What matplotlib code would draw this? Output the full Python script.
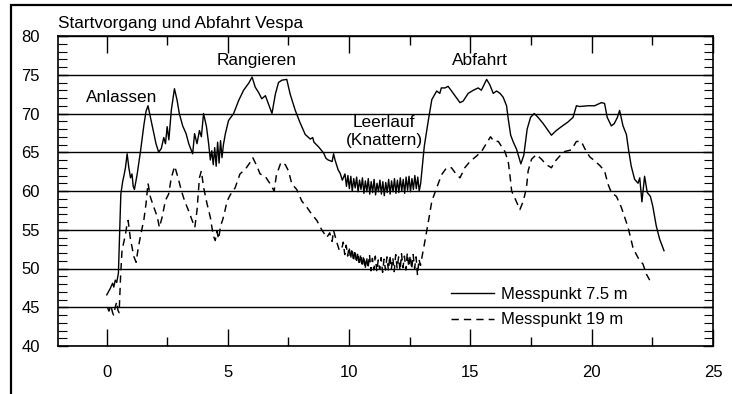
import matplotlib
matplotlib.use("Agg")
import matplotlib.pyplot as plt
from matplotlib.patches import Rectangle

plt.rcParams['font.family'] = ['Liberation Sans', 'DejaVu Sans']

# ---- data: time [s] and level [dB] ----
t_near = [0.01, 0.15, 0.25, 0.30, 0.36, 0.42, 0.49, 0.52, 0.55, 0.59, 0.67, 0.72, 0.78, 0.85, 0.92,
          0.99, 1.05, 1.10, 1.15, 1.26, 1.40, 1.54, 1.63, 1.71, 1.81, 1.95, 2.04, 2.15, 2.26, 2.36,
          2.43, 2.50, 2.57, 2.67, 2.80, 2.91, 3.00, 3.14, 3.28, 3.39, 3.55, 3.63, 3.73, 3.83, 3.91,
          4.00, 4.12, 4.21, 4.28, 4.34, 4.40, 4.46, 4.52, 4.58, 4.64, 4.70, 4.76, 4.82, 4.90, 5.03,
          5.24, 5.45, 5.65, 5.86, 6.00, 6.13, 6.27, 6.40, 6.55, 6.68, 6.82, 6.96, 7.09, 7.23, 7.43,
          7.57, 7.78, 7.98, 8.19, 8.40, 8.50, 8.55, 8.74, 8.95, 9.05, 9.14, 9.30, 9.36, 9.42, 9.55,
          9.63, 9.72,
          9.83, 9.89, 9.95, 10.01, 10.07, 10.13, 10.19, 10.25, 10.31, 10.37, 10.43, 10.49, 10.55,
          10.61, 10.67, 10.73, 10.79, 10.85, 10.91, 10.97, 11.03, 11.09, 11.15, 11.21, 11.27, 11.33,
          11.39, 11.45, 11.51, 11.57, 11.63, 11.69, 11.75, 11.81, 11.87, 11.93, 11.99, 12.05, 12.11,
          12.17, 12.23, 12.29, 12.35, 12.41, 12.47, 12.53, 12.59, 12.65, 12.71, 12.77, 12.83, 12.89,
          12.95, 13.10, 13.27, 13.41, 13.61, 13.74, 13.80, 13.95, 14.08, 14.20, 14.36, 14.57, 14.70,
          14.91, 15.12, 15.32, 15.45, 15.67, 15.80, 15.94, 16.08, 16.22, 16.35, 16.49, 16.56, 16.66,
          16.77, 16.90, 17.08, 17.20, 17.34, 17.48, 17.63, 17.79, 18.00, 18.16, 18.34, 18.54, 18.75,
          19.02, 19.23, 19.37, 19.50, 19.85, 20.12, 20.40, 20.53, 20.64, 20.81, 20.93, 21.06, 21.15,
          21.29, 21.43, 21.52, 21.63, 21.77, 21.91, 21.98, 22.07, 22.18, 22.29, 22.42, 22.52, 22.66,
          22.80, 22.98]
L_near = [46.6, 47.4, 48.1, 47.6, 48.5, 48.2, 49.4, 52.4, 55.3, 59.6, 61.3, 62.0, 63.0, 64.8, 63.0,
          61.7, 62.2, 60.6, 60.2, 62.1, 65.1, 68.5, 70.3, 71.0, 69.5, 67.4, 66.1, 65.0, 65.5, 66.9,
          66.1, 68.3, 66.6, 70.4, 73.2, 71.7, 70.0, 68.4, 67.4, 66.1, 64.8, 67.4, 66.1, 67.8, 67.0,
          70.0, 68.3, 66.1, 64.0, 65.2, 63.4, 65.6, 63.2, 66.3, 63.6, 66.5, 64.3, 66.0, 67.4, 69.1,
          70.0, 71.7, 73.0, 73.9, 74.7, 73.4, 72.7, 71.9, 72.3, 71.2, 70.0, 72.5, 74.0, 74.3, 74.4,
          72.5, 70.4, 68.8, 67.3, 66.7, 66.9, 66.3, 65.7, 64.9, 64.2, 64.0, 63.8, 64.8, 64.0, 62.7,
          62.3, 61.4,
          62.2, 60.6, 62.0, 60.3, 61.9, 60.0, 61.6, 60.4, 61.8, 59.9, 61.4, 60.2, 61.7,
          59.7, 61.3, 59.9, 61.6, 59.6, 61.2, 59.8, 61.5, 59.5, 61.0, 59.9, 61.4, 59.6,
          61.2, 59.4, 61.1, 59.8, 61.5, 59.6, 61.3, 59.9, 61.6, 59.7, 61.4, 59.8, 61.7,
          60.0, 61.5, 59.7, 61.8, 60.1, 61.9, 59.9, 61.6, 60.2, 62.0, 60.3, 61.8, 60.0,
          61.0, 65.8, 69.2, 71.8, 72.9, 72.6, 73.3, 73.3, 73.5, 73.0, 72.3, 71.4, 71.6,
          72.6, 73.0, 73.3, 73.0, 74.4, 73.7, 72.6, 72.9, 72.6, 72.1, 71.0, 69.3, 67.2,
          66.3, 65.4, 63.5, 64.6, 68.0, 69.5, 70.0, 69.5, 68.7, 68.0, 67.2, 67.8, 68.3,
          68.9, 69.5, 71.0, 70.9, 71.0, 71.0, 71.4, 71.3, 69.5, 68.4, 68.7, 69.5, 70.4,
          68.4, 67.3, 65.3, 63.2, 61.5, 61.0, 61.7, 58.6, 61.9, 59.8, 59.3, 58.0, 55.5,
          53.8, 52.3]

t_far = [0.04, 0.10, 0.18, 0.25, 0.29, 0.36, 0.42, 0.47, 0.52, 0.58, 0.64, 0.72, 0.78, 0.84, 0.89,
         0.99, 1.05, 1.12, 1.22, 1.30, 1.40, 1.54, 1.63, 1.71, 1.81, 1.95, 2.09, 2.18, 2.29, 2.43,
         2.56, 2.67, 2.81, 2.95, 3.09, 3.22, 3.39, 3.53, 3.64, 3.73, 3.83, 3.91, 4.00, 4.14, 4.28,
         4.35, 4.42, 4.48, 4.55, 4.62, 4.70, 4.78, 4.85, 4.97, 5.10, 5.30, 5.50, 5.72, 5.90, 6.03,
         6.20, 6.33, 6.54, 6.75, 6.91, 7.00, 7.19, 7.37, 7.50, 7.64, 7.84, 8.05, 8.26, 8.46, 8.67,
         8.87, 9.08, 9.20, 9.30, 9.36, 9.42, 9.52, 9.60,
         9.70, 9.76, 9.82, 9.88, 9.94, 10.00, 10.06, 10.12, 10.18, 10.24, 10.30, 10.36, 10.42,
         10.48, 10.54, 10.60, 10.66, 10.72, 10.78, 10.84, 10.90, 10.96, 11.02, 11.08, 11.14, 11.20,
         11.26, 11.32, 11.38, 11.44, 11.50, 11.56, 11.62, 11.68, 11.74, 11.80, 11.86, 11.92, 11.98,
         12.04, 12.10, 12.16, 12.22, 12.28, 12.34, 12.40, 12.46, 12.52, 12.58, 12.64, 12.70, 12.76,
         12.82, 12.88, 12.94,
         13.10, 13.27, 13.41, 13.61, 13.81, 14.02, 14.22, 14.36, 14.57, 14.77, 14.98, 15.25, 15.46,
         15.67, 15.83, 15.97, 16.15, 16.29, 16.42, 16.56, 16.66, 16.70, 16.83, 17.04, 17.18, 17.31,
         17.38, 17.52, 17.72, 17.93, 18.13, 18.34, 18.48, 18.68, 18.89, 19.16, 19.37, 19.57, 19.71,
         19.92, 20.12, 20.33, 20.53, 20.67, 20.81, 21.02, 21.22, 21.36, 21.50, 21.70, 21.84, 21.98,
         22.11, 22.25, 22.39]
L_far = [45.0, 44.5, 45.2, 44.3, 44.0, 45.0, 45.7, 44.6, 44.3, 49.0, 52.4, 53.5, 54.4, 55.6, 56.2,
         53.7, 52.8, 51.6, 50.8, 52.5, 54.2, 56.3, 58.4, 61.0, 59.2, 57.9, 56.7, 55.3, 56.6, 58.8,
         59.6, 61.7, 63.2, 61.7, 60.0, 58.7, 57.4, 56.2, 55.3, 57.5, 61.7, 62.6, 60.5, 58.4, 56.6,
         55.2, 54.1, 53.6, 54.8, 53.8, 55.5, 56.2, 57.0, 58.7, 59.5, 60.4, 62.2, 62.8, 63.6, 64.3,
         63.2, 62.2, 61.9, 60.9, 60.0, 62.0, 63.7, 63.4, 62.6, 60.9, 60.2, 58.7, 57.9, 57.0, 56.2,
         55.0, 54.0, 54.6, 53.5, 54.9, 54.2, 53.1, 52.3,
         52.6, 53.4, 51.8, 53.0, 51.6, 52.8, 51.2, 52.6, 50.9, 52.4, 50.7, 52.1, 50.4,
         51.9, 50.2, 51.7, 49.9, 51.5, 50.0, 51.8, 49.7, 51.3, 49.8, 51.6, 49.6, 51.1,
         49.9, 51.4, 49.5, 51.2, 49.8, 51.5, 49.7, 51.7, 49.9, 51.4, 49.6, 51.8, 50.0,
         51.5, 49.7, 51.9, 50.1, 51.6, 49.8, 52.0, 50.2, 51.7, 49.9, 51.8, 50.0, 51.5,
         49.1, 51.2, 50.4,
         53.1, 56.1, 58.7, 60.4, 62.1, 63.0, 63.0, 62.4, 61.7, 63.0, 63.8, 64.5, 65.1,
         66.2, 67.0, 66.4, 66.4, 65.7, 65.1, 63.8, 61.2, 60.0, 59.1, 57.6, 58.7, 60.4,
         62.6, 64.1, 64.7, 64.1, 63.4, 63.0, 63.8, 64.5, 65.1, 65.3, 66.4, 66.4, 65.5,
         64.4, 63.9, 63.3, 62.6, 60.9, 59.8, 59.3, 57.9, 56.6, 55.3, 52.7, 51.8, 51.0,
         50.6, 49.3, 48.5]

series_labels = ["Messpunkt 7.5 m", "Messpunkt 19 m"]
x_ticks = [0, 5, 10, 15, 20, 25]
x_minor = [2.5, 7.5, 12.5, 17.5, 22.5]
y_ticks = [40, 45, 50, 55, 60, 65, 70, 75, 80]
y_minor = list(range(40, 81))
title = "Startvorgang und Abfahrt Vespa"
phase_labels = ["Anlassen", "Rangieren", "Leerlauf", "(Knattern)", "Abfahrt"]

# ---- figure ----
fig = plt.figure(figsize=(7.32, 3.94), dpi=100)
ax = fig.add_axes([58/732, 48/394, 655/732, 310/394])

ax.plot(t_near, L_near, color='black', lw=1.0, label=series_labels[0], zorder=3)
ax.plot(t_far, L_far, color='black', lw=1.05, linestyle=(0, (5, 3.5)), label=series_labels[1], zorder=3)

ax.set_xlim(-2, 25)
ax.set_ylim(40, 80)
ax.set_xticks(x_ticks)
ax.set_xticks(x_minor, minor=True)
ax.set_yticks(y_ticks)
ax.set_yticks(y_minor, minor=True)

ax.tick_params(axis='x', which='major', direction='in', length=12.5, width=1.0,
               top=True, bottom=True, pad=14, labelsize=12)
ax.tick_params(axis='x', which='minor', direction='in', length=6.5, width=1.0,
               top=True, bottom=True)
ax.tick_params(axis='y', which='major', direction='in', length=7, width=1.0,
               left=True, right=True, pad=13, labelsize=12)
ax.tick_params(axis='y', which='minor', direction='in', length=6.5, width=0.8,
               left=True, right=True)

for s in ax.spines.values():
    s.set_linewidth(1.2)
    s.set_color('black')

ax.grid(axis='y', which='major', color='black', lw=1.0)
ax.set_axisbelow(True)

ax.text(0, 1.016, title, transform=ax.transAxes, ha='left', va='bottom', fontsize=12.4)

ax.text(0.62, 71.45, phase_labels[0], ha='center', va='baseline', fontsize=12.4)
ax.text(6.19, 76.25, phase_labels[1], ha='center', va='baseline', fontsize=12.4)
ax.text(11.45, 68.3, phase_labels[2], ha='center', va='baseline', fontsize=12.4)
ax.text(11.45, 65.95, phase_labels[3], ha='center', va='baseline', fontsize=12.4)
ax.text(15.38, 76.25, phase_labels[4], ha='center', va='baseline', fontsize=12.4)

ax.legend(loc='upper left', bbox_to_anchor=(0.6, 0.19), frameon=False, fontsize=12,
          handlelength=2.6, handletextpad=0.4, labelspacing=0.62, borderpad=0,
          borderaxespad=0)

fig.add_artist(Rectangle((11/732, -0.05), 1.2, 1 - 5/394 + 0.05, transform=fig.transFigure,
                         fill=False, lw=1.6, ec='black'))

fig.savefig("out.png", dpi=100)
